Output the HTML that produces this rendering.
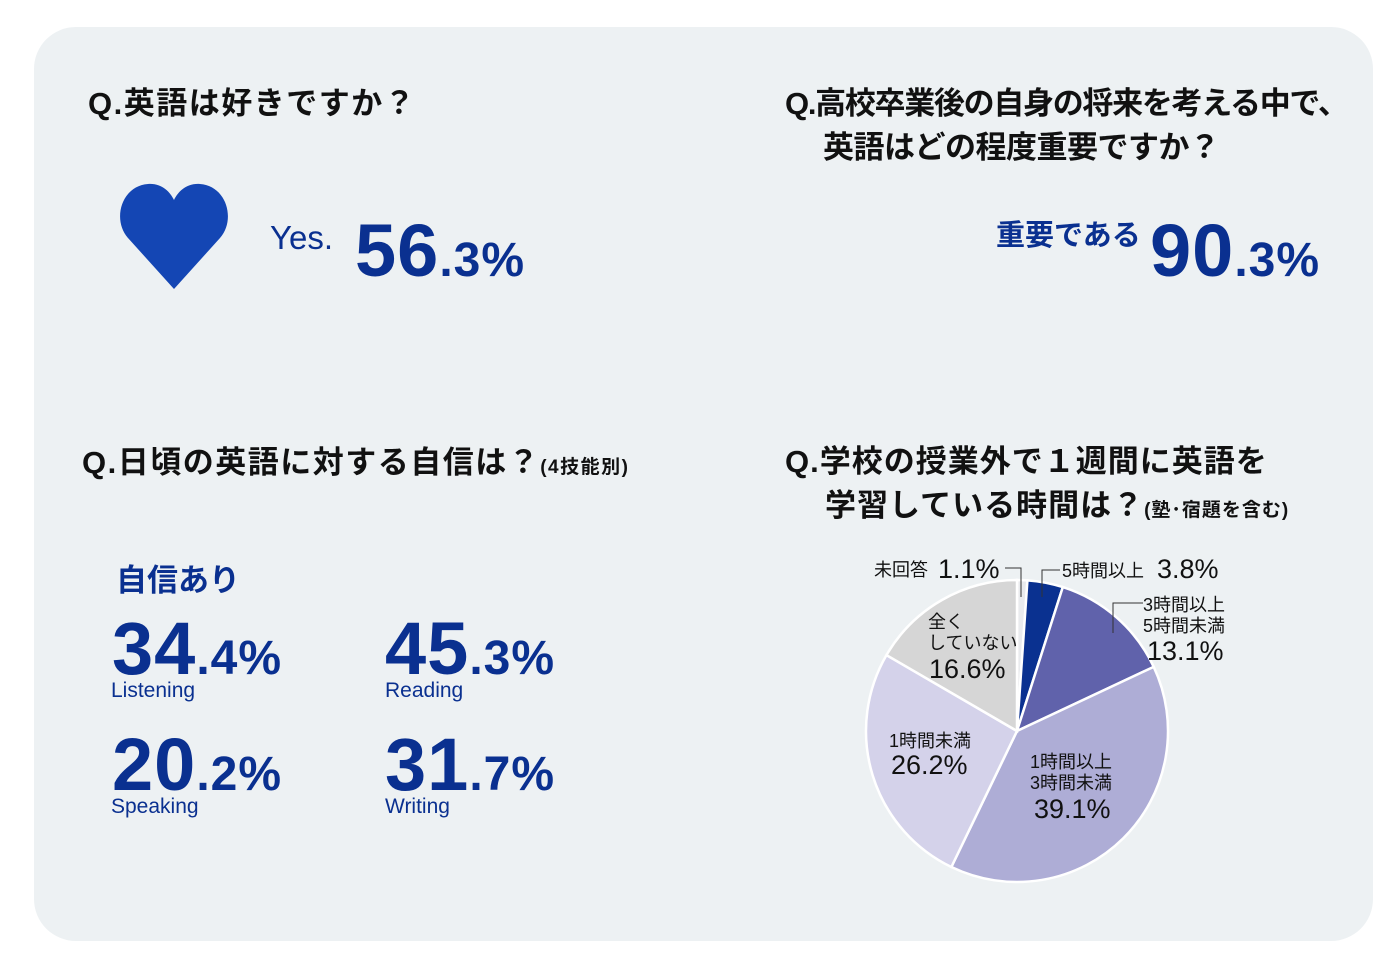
<!DOCTYPE html>
<html><head><meta charset="utf-8">
<style>
*{margin:0;padding:0;box-sizing:border-box}
body{width:1400px;height:970px;background:#fff;position:relative;overflow:hidden;font-family:"Liberation Sans","Noto Sans CJK JP",sans-serif}
#panel{position:absolute;left:34px;top:27px;width:1339px;height:914px;background:#edf1f3;border-radius:42px}
.q{position:absolute;font-weight:bold;color:#111;font-size:31px;line-height:44px;white-space:nowrap}
.q small{font-size:19px}
.blue{color:#0a3090;position:absolute;font-weight:bold;white-space:nowrap;line-height:1}
.big{font-size:74px;letter-spacing:1px}
.big span{font-size:48px;letter-spacing:1px}
.lab{position:absolute;color:#0a3090;font-size:21px;line-height:1}
</style></head><body>
<div id="panel"></div>

<div class="q" style="left:88px;top:82px;letter-spacing:1.5px">Q.英語は好きですか？</div>
<svg style="position:absolute;left:118px;top:180px" width="112" height="112" viewBox="0 0 112 112">
<path d="M56 109 L10 58 C-6 40 3 6 30 4 C44 3 52 12 56 20 C60 12 68 3 82 4 C109 6 118 40 102 58 Z" fill="#1446b4"/></svg>
<div class="blue" style="left:270px;top:221px;font-size:33px;font-weight:normal">Yes.</div>
<div class="blue big" style="left:355px;top:214px">56<span>.3%</span></div>

<div class="q" style="left:785px;top:82px;letter-spacing:-1.3px">Q.高校卒業後の自身の将来を考える中で、</div>
<div class="q" style="left:823px;top:126px;letter-spacing:-0.5px">英語はどの程度重要ですか？</div>
<div class="blue" style="left:996px;top:222px;font-size:29px">重要である</div>
<div class="blue big" style="left:1150px;top:214px">90<span>.3%</span></div>

<div class="q" style="left:82px;top:441px;letter-spacing:1.5px">Q.日頃の英語に対する自信は？<small>(4技能別)</small></div>
<div class="blue" style="left:116px;top:565px;font-size:31px">自信あり</div>
<div class="blue big" style="left:112px;top:612px">34<span>.4%</span></div>
<div class="lab" style="left:111px;top:680px">Listening</div>
<div class="blue big" style="left:385px;top:612px">45<span>.3%</span></div>
<div class="lab" style="left:385px;top:680px">Reading</div>
<div class="blue big" style="left:112px;top:728px">20<span>.2%</span></div>
<div class="lab" style="left:111px;top:796px">Speaking</div>
<div class="blue big" style="left:385px;top:728px">31<span>.7%</span></div>
<div class="lab" style="left:385px;top:796px">Writing</div>

<div class="q" style="left:785px;top:440px;letter-spacing:1px">Q.学校の授業外で１週間に英語を</div>
<div class="q" style="left:825px;top:484px;letter-spacing:1px">学習している時間は？<small>(塾･宿題を含む)</small></div>

<svg id="pie" style="position:absolute;left:0;top:0" width="1400" height="970"></svg>
<script>
const categories=["未回答","5時間以上","3時間以上5時間未満","1時間以上3時間未満","1時間未満","全くしていない"];
const values=[1.1,3.8,13.1,39.1,26.2,16.6];
const colors=["#e9ebee","#0a3190","#6062ab","#aeadd6","#d4d2ea","#d6d6d6"];
const cx=1017,cy=731,r=151;
const svg=document.getElementById('pie');
const NS="http://www.w3.org/2000/svg";
const total=values.reduce((a,b)=>a+b,0);
function pt(a,rr){return [cx+rr*Math.sin(a),cy-rr*Math.cos(a)];}
let acc=0;
values.forEach((v,i)=>{
  const a0=acc/total*2*Math.PI;acc+=v;const a1=acc/total*2*Math.PI;
  const p0=pt(a0,r),p1=pt(a1,r);
  const p=document.createElementNS(NS,'path');
  p.setAttribute('d',`M${cx},${cy}L${p0[0]},${p0[1]}A${r},${r} 0 ${a1-a0>Math.PI?1:0} 1 ${p1[0]},${p1[1]}Z`);
  p.setAttribute('fill',colors[i]);p.setAttribute('stroke','#fff');p.setAttribute('stroke-width','2.5');
  
  
  svg.appendChild(p);
});
function line(pts){const l=document.createElementNS(NS,'polyline');l.setAttribute('points',pts);l.setAttribute('fill','none');l.setAttribute('stroke','#333');l.setAttribute('stroke-width','1');
  
  
  svg.appendChild(l);}
line("1005,568 1021,568 1021,597");
line("1060,570 1042,570 1042,597");
line("1143,603 1113,603 1113,633");
function txt(x,y,s,size){const t=document.createElementNS(NS,'text');t.setAttribute('x',x);t.setAttribute('y',y);t.setAttribute('font-size',size);t.setAttribute('fill','#111');t.setAttribute('font-family','"Liberation Sans","Noto Sans CJK JP",sans-serif');t.textContent=s;
  
  
  svg.appendChild(t);}
txt(874,576,"未回答",18);txt(938,578,values[0].toFixed(1)+"%",27);
txt(1062,577,"5時間以上",18);txt(1157,578,values[1].toFixed(1)+"%",27);
txt(1143,611,"3時間以上",18);txt(1143,632,"5時間未満",18);txt(1147,660,values[2].toFixed(1)+"%",27);
txt(928,628,"全く",18);txt(928,649,"していない",18);txt(929,678,values[5].toFixed(1)+"%",27);
txt(889,747,"1時間未満",18);txt(891,774,values[4].toFixed(1)+"%",27);
txt(1030,768,"1時間以上",18);txt(1030,789,"3時間未満",18);txt(1034,818,values[3].toFixed(1)+"%",27);
</script>
</body></html>
